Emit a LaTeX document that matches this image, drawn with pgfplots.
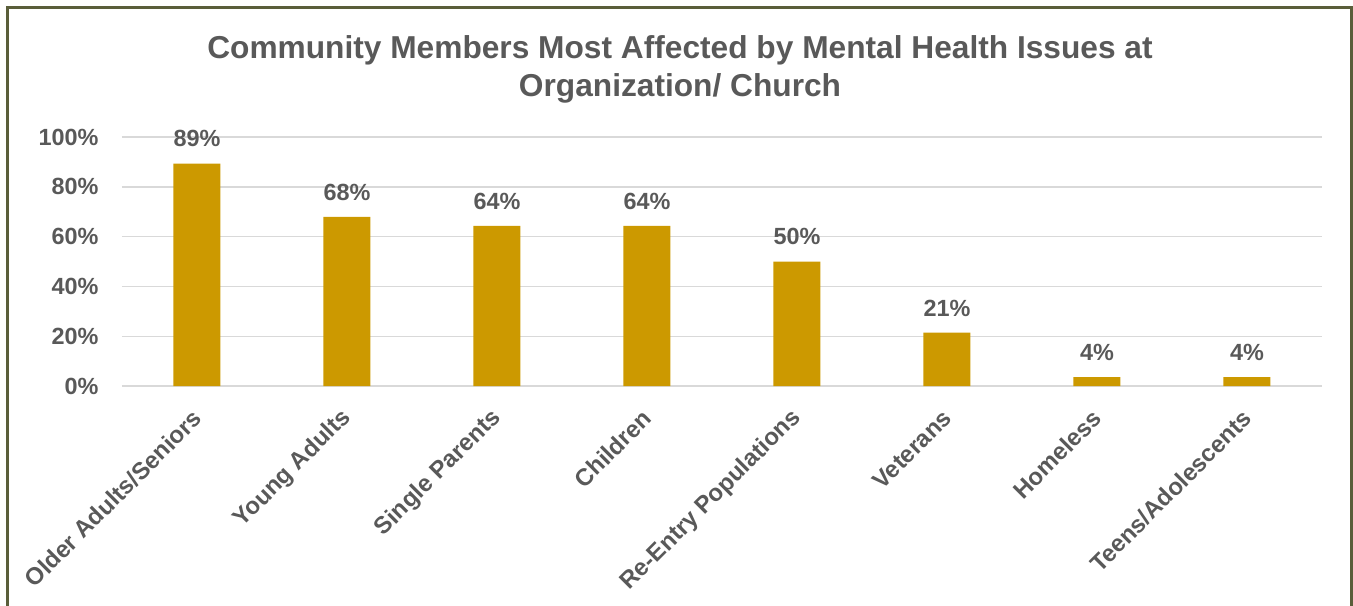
\documentclass[border=0pt]{standalone}
\usepackage{pgfplots}
\pgfplotsset{compat=1.18}
\usepackage{fontspec}
\setmainfont{Liberation Sans}
\definecolor{bargold}{HTML}{CC9900}
\definecolor{txtgray}{HTML}{595959}
\definecolor{gridgray}{HTML}{D9D9D9}
\definecolor{framecol}{HTML}{5A5E3A}
\begin{document}
\begin{tikzpicture}
\useasboundingbox (-122bp,-220bp) rectangle (1231bp,386bp);
\begin{axis}[
  at={(0,0)}, anchor=south west,
  scale only axis, width=1200bp, height=249bp,
  xmin=-0.5, xmax=7.5, ymin=0, ymax=100,
  ybar, bar width=47bp,
  axis line style={draw=none},
  major tick length=0pt,
  ymajorgrids, grid style={gridgray, line width=1.4bp},
  ytick={0,20,40,60,80,100},
  yticklabel={\pgfmathprintnumber{\tick}\%},
  /pgf/number format/assume math mode=true,
  yticklabel style={font=\bfseries\fontsize{23.5}{28}\selectfont, text=txtgray, xshift=-20bp},
  xtick=data,
  xticklabels={Older Adults/Seniors, Young Adults, Single Parents, Children, Re-Entry Populations, Veterans, Homeless, Teens/Adolescents},
  xticklabel style={xshift=2.6bp, yshift=-26bp, rotate=45, anchor=east, font=\bfseries\fontsize{24}{28}\selectfont, text=txtgray},
  nodes near coords={\pgfmathprintnumber[fixed,precision=0]{\pgfplotspointmeta}\%},
  nodes near coords style={font=\bfseries\fontsize{23.5}{28}\selectfont, text=txtgray, yshift=13bp},
]
\addplot[fill=bargold, draw=none] coordinates {
 (0,89.3) (1,67.9) (2,64.3) (3,64.3) (4,50.0) (5,21.4) (6,3.6) (7,3.6)};
\end{axis}
\node[align=center, font=\bfseries\fontsize{31.8}{38.5}\selectfont, text=txtgray] at (558bp,316.5bp)
 {Community Members Most Affected by Mental Health Issues at\\Organization/ Church};
\draw[framecol, line width=3bp] (-114bp,-225bp) -- (-114bp,378.5bp) -- (1229bp,378.5bp) -- (1229bp,-225bp);
\end{tikzpicture}
\end{document}
